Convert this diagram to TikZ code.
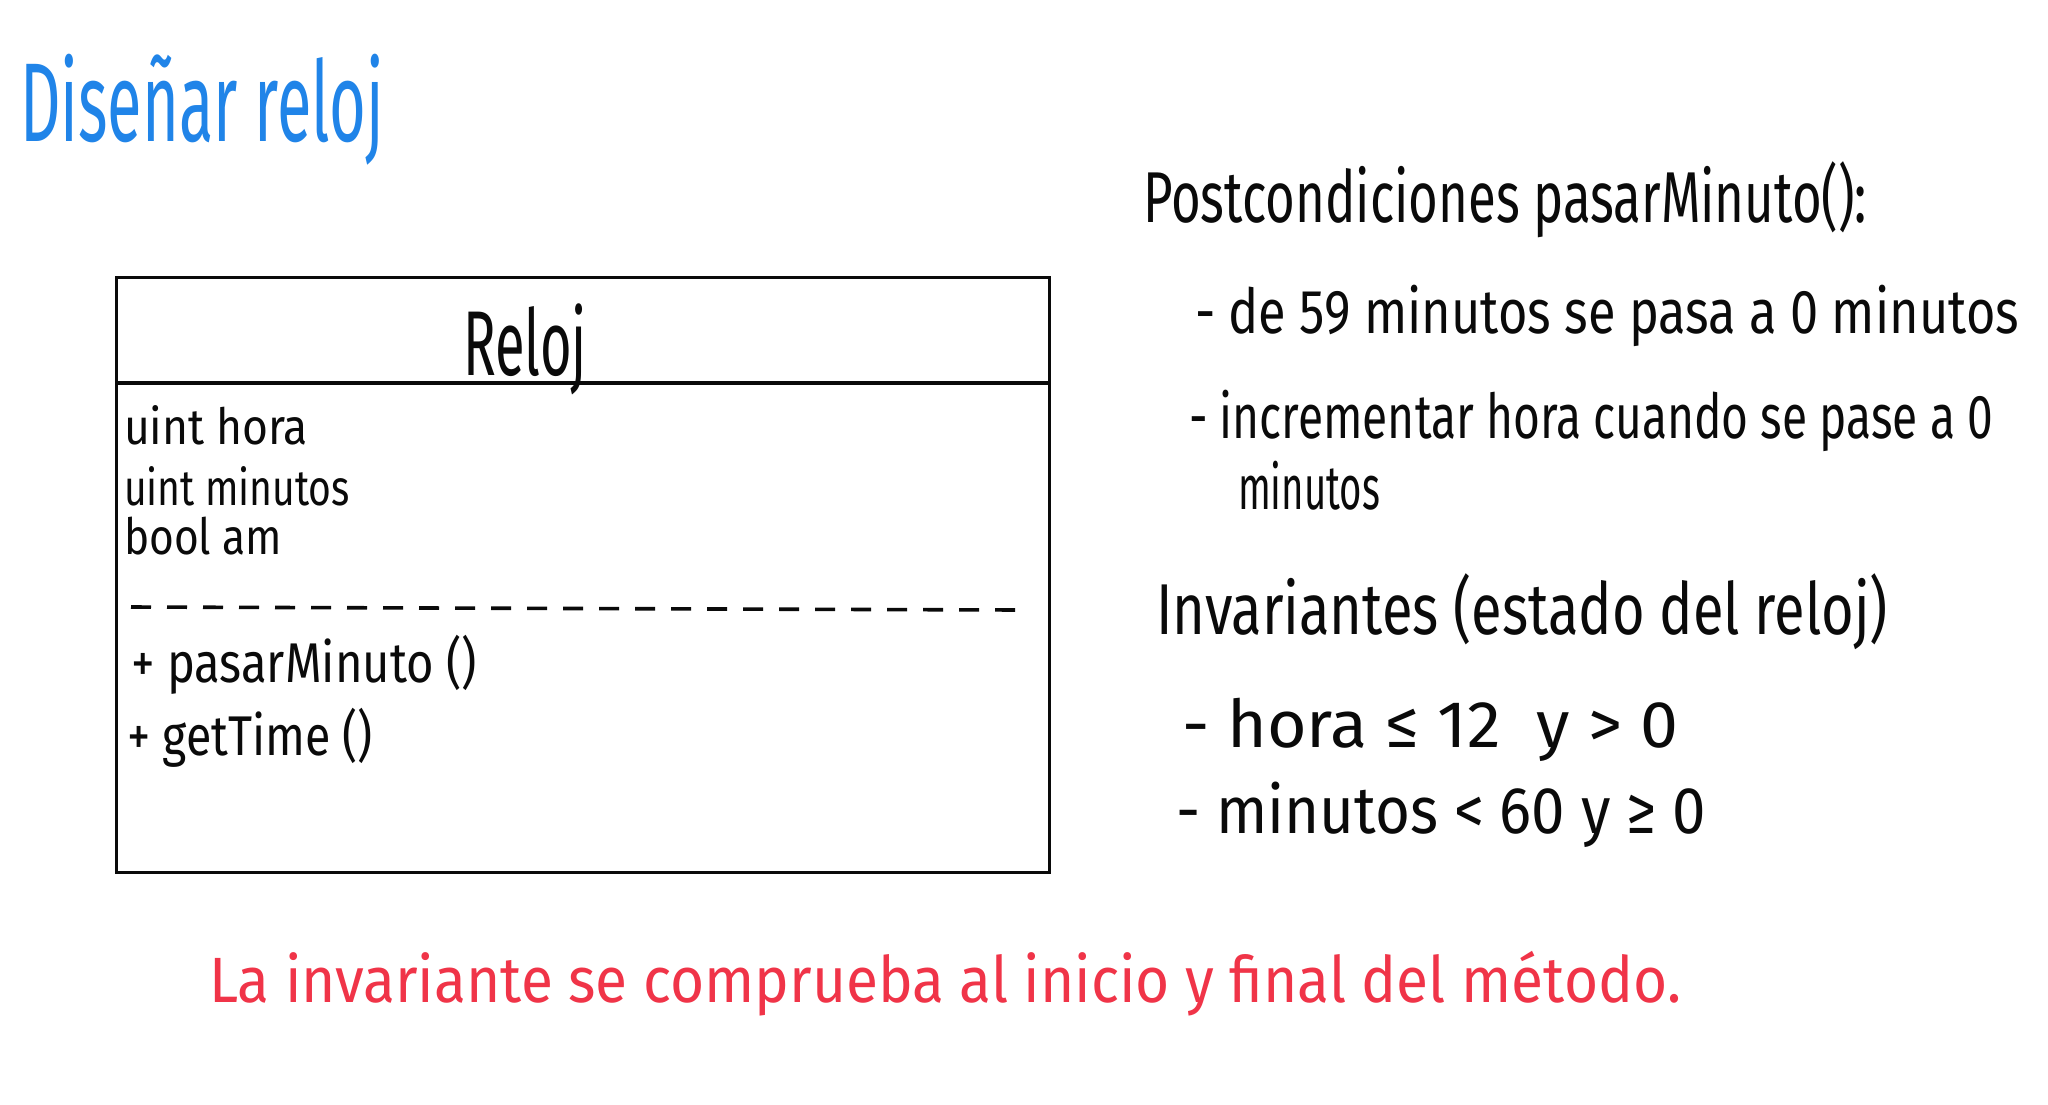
\documentclass[tikz,border=0pt]{standalone}
\usepackage{fontspec}
\setmainfont{Fira Sans}
\definecolor{penblue}{RGB}{32,132,232}
\definecolor{penred}{RGB}{240,52,72}
\definecolor{penblack}{RGB}{10,10,10}
\newcommand\fitw[3]{\resizebox{#1pt}{\height}{\fontsize{#2}{#2}\selectfont #3}}
\begin{document}
\begin{tikzpicture}[x=0.5pt,y=-0.5pt,
  hw/.style={inner sep=0pt, outer sep=0pt, anchor=base west, text=penblack},
  boxline/.style={draw=penblack, line width=1.7pt},
  dashline/.style={draw=penblack, line width=1.8pt, dash pattern=on 10pt off 8pt}]
\useasboundingbox[fill=white] (0,0) rectangle (2048,1104);

% title
\node[hw, text=penblue] (title) at (20,141) {\fitw{182}{56pt}{Diseñar reloj}};

% class box
\node[boxline, rectangle, minimum width=466.5pt, minimum height=297.5pt, anchor=north west, inner sep=0pt] (box) at (115,276) {};
\coordinate (hl) at (115,383);
\coordinate (hr) at (1048,383);
\draw[boxline] (hl) -- (hr);
\node[hw, anchor=base] (cname) at (525,375) {\fitw{62}{46pt}{Reloj}};
\node[hw] (a1) at (124,444) {\fitw{92}{25pt}{uint hora}};
\node[hw] (a2) at (124,505) {\fitw{113}{25pt}{uint minutos}};
\node[hw] (a3) at (124,554) {\fitw{79}{25pt}{bool am}};
\coordinate (dl) at (131,607);
\coordinate (dr) at (1021,610);
\draw[dashline] (dl) -- (dr);
\node[hw] (m1) at (131,682) {\fitw{173}{28pt}{+ pasarMinuto ()}};
\node[hw] (m2) at (127,755) {\fitw{123}{28pt}{+ getTime ()}};

% right column
\node[hw] (post) at (1143,222) {\fitw{362}{36pt}{Postcondiciones pasarMinuto():}};
\node[hw] (p1) at (1195,333) {\fitw{412}{31pt}{- de 59 minutos se pasa a 0 minutos}};
\node[hw] (p2) at (1189,438) {\fitw{402}{31pt}{- incrementar hora cuando se pase a 0}};
\node[hw] (p2b) at (1238,509) {\fitw{71}{31pt}{minutos}};
\node[hw] (inv) at (1156,634) {\fitw{366}{36pt}{Invariantes (estado del reloj)}};
\node[hw] (i1) at (1182,747) {\fitw{248}{33pt}{- hora ≤ 12~ y > 0}};
\node[hw] (i2) at (1176,833) {\fitw{265}{33pt}{- minutos < 60 y ≥ 0}};

% bottom note
\node[hw, text=penred] (note) at (209,1002) {\fitw{736}{32pt}{La invariante se comprueba al inicio y final del método.}};
\end{tikzpicture}
\end{document}
